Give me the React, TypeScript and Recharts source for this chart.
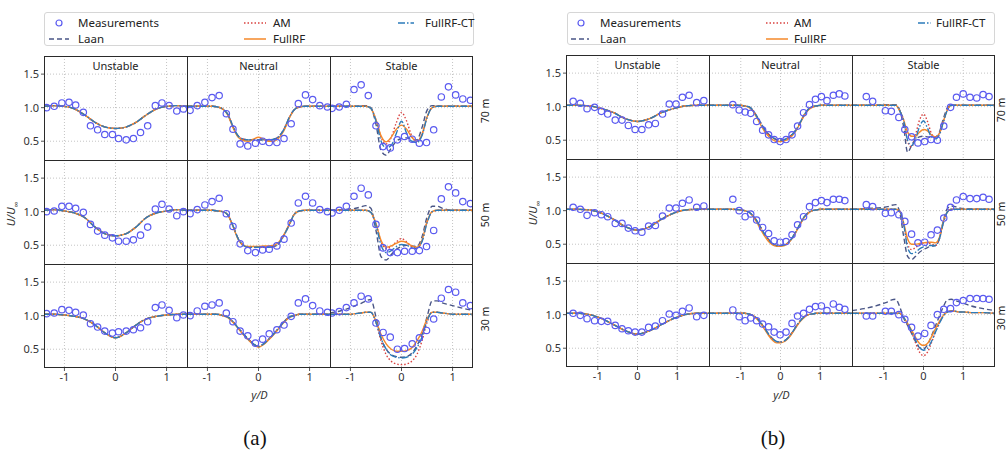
import React from 'react'
import { ComposedChart, Line, Scatter, XAxis, YAxis, CartesianGrid } from 'recharts'

const FONT = "'Noto Sans', 'Open Sans', sans-serif"
const C = { meas: '#5a5af0', laan: '#4a5686', am: '#d9413f', rf: '#f5892a', ct: '#2b7bba' }

const Y_DOMAIN = [0.22, 1.77]
const yTicks = [0.5, 1.0, 1.5]
const xTicks = [-1, 0, 1]
const regimes = ['Unstable', 'Neutral', 'Stable']
const heights = ['70 m', '50 m', '30 m']

// model x grids
const xA = [-1.4, -1.2, -1.0, -0.9, -0.8, -0.7, -0.6, -0.5, -0.4, -0.3, -0.2, -0.1, 0, 0.1, 0.2, 0.3, 0.4, 0.5, 0.6, 0.7, 0.8, 0.9, 1.0, 1.2, 1.4]
const xAc = [-1.4, -1.2, -1.0, -0.8, -0.6, -0.4, -0.2, 0, 0.2, 0.4, 0.6, 0.8, 1.0, 1.2, 1.4]
const xB = [-1.8, -1.5, -1.2, -1.0, -0.9, -0.8, -0.7, -0.6, -0.5, -0.4, -0.3, -0.2, -0.1, 0, 0.1, 0.2, 0.3, 0.4, 0.5, 0.6, 0.7, 0.8, 0.9, 1.0, 1.2, 1.5, 1.8]
const xBc = [-1.8, -1.5, -1.2, -0.9, -0.6, -0.3, 0, 0.3, 0.6, 0.9, 1.2, 1.5, 1.8]

// (a) measurements
const mxAUns = [-1.35, -1.2, -1.05, -0.91, -0.78, -0.63, -0.49, -0.35, -0.21, -0.06, 0.06, 0.21, 0.35, 0.49, 0.63, 0.78, 0.91, 1.05, 1.2, 1.33]
const myAUns70 = [1.0, 1.02, 1.07, 1.08, 1.04, 0.93, 0.73, 0.67, 0.6, 0.6, 0.54, 0.52, 0.54, 0.63, 0.73, 1.03, 1.07, 1.03, 0.95, 0.98]
const myAUns50 = [1.0, 1.01, 1.08, 1.08, 1.05, 0.99, 0.81, 0.71, 0.65, 0.61, 0.56, 0.56, 0.58, 0.65, 0.77, 1.04, 1.11, 1.04, 0.94, 1.0]
const myAUns30 = [1.03, 1.04, 1.09, 1.08, 1.05, 1.01, 0.88, 0.83, 0.77, 0.74, 0.76, 0.77, 0.79, 0.82, 0.91, 1.12, 1.16, 1.08, 0.97, 1.01]
const mxANeu = [-1.34, -1.2, -1.05, -0.91, -0.77, -0.63, -0.5, -0.36, -0.21, -0.06, 0.08, 0.21, 0.36, 0.5, 0.64, 0.78, 0.92, 1.06, 1.2, 1.35]
const myANeu70 = [0.96, 1.03, 1.08, 1.15, 1.18, 0.91, 0.68, 0.46, 0.43, 0.47, 0.5, 0.48, 0.48, 0.54, 0.76, 1.06, 1.19, 1.12, 1.03, 1.01]
const myANeu50 = [0.97, 1.03, 1.1, 1.15, 1.2, 0.97, 0.78, 0.52, 0.42, 0.39, 0.43, 0.44, 0.49, 0.59, 0.83, 1.13, 1.23, 1.13, 1.03, 1.0]
const myANeu30 = [1.0, 1.07, 1.14, 1.16, 1.19, 1.04, 0.91, 0.77, 0.7, 0.59, 0.65, 0.73, 0.79, 0.86, 0.99, 1.19, 1.25, 1.15, 1.07, 1.05]
const mxASta = [-1.36, -1.22, -1.08, -0.93, -0.79, -0.65, -0.5, -0.36, -0.22, -0.08, 0.06, 0.21, 0.35, 0.49, 0.63, 0.78, 0.92, 1.06, 1.2, 1.35]
const myASta70 = [0.99, 1.01, 1.05, 1.27, 1.34, 1.18, 0.73, 0.42, 0.4, 0.52, 0.57, 0.53, 0.47, 0.48, 0.67, 1.16, 1.31, 1.19, 1.13, 1.11]
const myASta50 = [0.98, 1.02, 1.08, 1.23, 1.35, 1.25, 0.81, 0.46, 0.39, 0.39, 0.41, 0.41, 0.42, 0.48, 0.72, 1.19, 1.37, 1.28, 1.15, 1.12]
const myASta30 = [1.04, 1.06, 1.12, 1.19, 1.29, 1.25, 0.89, 0.75, 0.68, 0.5, 0.51, 0.58, 0.67, 0.78, 0.95, 1.26, 1.39, 1.35, 1.19, 1.15]

// (a) models
const aUns70 = [1.02, 1.03, 1.02, 0.98, 0.89, 0.78, 0.71, 0.69, 0.71, 0.78, 0.89, 0.98, 1.02, 1.03, 1.02]
const aUns50 = [1.02, 1.03, 1.01, 0.98, 0.91, 0.77, 0.67, 0.64, 0.67, 0.77, 0.91, 0.98, 1.01, 1.03, 1.02]
const aUns30 = [1.02, 1.02, 1.01, 0.99, 0.95, 0.86, 0.74, 0.67, 0.74, 0.86, 0.95, 0.99, 1.01, 1.02, 1.02]
const aNeu70 = [1.02, 1.02, 1.02, 1.02, 1.01, 0.98, 0.9, 0.72, 0.58, 0.53, 0.52, 0.52, 0.52, 0.52, 0.52, 0.53, 0.57, 0.68, 0.85, 0.97, 1.01, 1.02, 1.02, 1.02, 1.02]
const aNeu70Rf = [1.02, 1.02, 1.02, 1.02, 1.01, 0.98, 0.89, 0.7, 0.56, 0.51, 0.5, 0.53, 0.56, 0.53, 0.5, 0.5, 0.55, 0.66, 0.84, 0.97, 1.01, 1.02, 1.02, 1.02, 1.02]
const aNeu50 = [1.02, 1.02, 1.02, 1.02, 1.01, 1.0, 0.95, 0.79, 0.6, 0.5, 0.47, 0.47, 0.47, 0.47, 0.47, 0.48, 0.53, 0.65, 0.8, 0.96, 1.01, 1.02, 1.02, 1.02, 1.02]
const aNeu50Rf = [1.02, 1.02, 1.02, 1.02, 1.01, 1.0, 0.95, 0.78, 0.59, 0.5, 0.48, 0.48, 0.48, 0.49, 0.49, 0.5, 0.55, 0.66, 0.81, 0.96, 1.01, 1.02, 1.02, 1.02, 1.02]
const aNeu30 = [1.02, 1.02, 1.02, 1.02, 1.02, 1.0, 0.98, 0.91, 0.82, 0.73, 0.65, 0.58, 0.54, 0.58, 0.65, 0.73, 0.82, 0.91, 0.98, 1.0, 1.02, 1.02, 1.02, 1.02, 1.02]
const aNeu30Rf = [1.02, 1.02, 1.02, 1.02, 1.02, 1.0, 0.97, 0.9, 0.81, 0.72, 0.64, 0.57, 0.53, 0.57, 0.64, 0.72, 0.81, 0.9, 0.97, 1.0, 1.02, 1.02, 1.02, 1.02, 1.02]
const aSta70Laan = [1.02, 1.02, 1.02, 1.02, 1.03, 1.03, 1.0, 0.75, 0.36, 0.29, 0.4, 0.5, 0.54, 0.55, 0.53, 0.52, 0.7, 0.96, 1.03, 1.03, 1.02, 1.02, 1.02, 1.02, 1.02]
const aSta70Am = [1.02, 1.02, 1.02, 1.02, 1.02, 1.02, 0.99, 0.82, 0.56, 0.46, 0.56, 0.78, 0.93, 0.8, 0.58, 0.5, 0.6, 0.86, 1.0, 1.02, 1.02, 1.02, 1.02, 1.02, 1.02]
const aSta70Rf = [1.02, 1.02, 1.02, 1.02, 1.02, 1.02, 0.99, 0.82, 0.58, 0.49, 0.56, 0.68, 0.74, 0.68, 0.56, 0.5, 0.6, 0.86, 1.0, 1.02, 1.02, 1.02, 1.02, 1.02, 1.02]
const aSta70Ct = [1.02, 1.02, 1.02, 1.02, 1.02, 1.02, 0.99, 0.8, 0.5, 0.4, 0.44, 0.62, 0.8, 0.62, 0.5, 0.48, 0.58, 0.85, 1.0, 1.02, 1.02, 1.02, 1.02, 1.02, 1.02]
const aSta50Laan = [1.02, 1.03, 1.04, 1.05, 1.07, 1.09, 1.05, 0.72, 0.33, 0.28, 0.36, 0.44, 0.48, 0.5, 0.49, 0.48, 0.62, 0.92, 1.08, 1.08, 1.05, 1.03, 1.02, 1.02, 1.02]
const aSta50Am = [1.02, 1.02, 1.02, 1.02, 1.02, 1.02, 0.99, 0.82, 0.55, 0.45, 0.48, 0.55, 0.6, 0.55, 0.48, 0.46, 0.56, 0.84, 1.0, 1.02, 1.02, 1.02, 1.02, 1.02, 1.02]
const aSta50Rf = [1.02, 1.02, 1.02, 1.02, 1.02, 1.02, 0.99, 0.82, 0.57, 0.47, 0.49, 0.53, 0.56, 0.54, 0.49, 0.47, 0.57, 0.85, 1.0, 1.02, 1.02, 1.02, 1.02, 1.02, 1.02]
const aSta50Ct = [1.02, 1.02, 1.02, 1.02, 1.02, 1.02, 0.99, 0.8, 0.5, 0.39, 0.42, 0.48, 0.51, 0.5, 0.46, 0.45, 0.55, 0.83, 1.0, 1.02, 1.02, 1.02, 1.02, 1.02, 1.02]
const aSta30Laan = [1.04, 1.07, 1.12, 1.15, 1.18, 1.22, 1.24, 0.98, 0.66, 0.5, 0.42, 0.39, 0.38, 0.39, 0.44, 0.55, 0.72, 0.98, 1.22, 1.22, 1.19, 1.17, 1.15, 1.11, 1.08]
const aSta30Am = [1.02, 1.02, 1.02, 1.03, 1.04, 1.05, 1.05, 0.9, 0.62, 0.42, 0.32, 0.28, 0.27, 0.28, 0.32, 0.42, 0.62, 0.9, 1.05, 1.05, 1.04, 1.03, 1.02, 1.02, 1.02]
const aSta30Rf = [1.02, 1.02, 1.02, 1.03, 1.04, 1.05, 1.05, 0.92, 0.72, 0.58, 0.5, 0.47, 0.47, 0.48, 0.52, 0.62, 0.76, 0.95, 1.05, 1.05, 1.04, 1.03, 1.02, 1.02, 1.02]
const aSta30Ct = [1.02, 1.02, 1.02, 1.03, 1.04, 1.05, 1.05, 0.9, 0.66, 0.5, 0.41, 0.38, 0.37, 0.38, 0.42, 0.52, 0.68, 0.92, 1.05, 1.05, 1.04, 1.03, 1.02, 1.02, 1.02]

// (b) measurements
const mxBUns = [-1.62, -1.44, -1.27, -1.08, -0.91, -0.75, -0.56, -0.39, -0.23, -0.06, 0.11, 0.28, 0.45, 0.63, 0.8, 0.97, 1.13, 1.3, 1.49, 1.67]
const myBUns70 = [1.08, 1.05, 0.97, 0.99, 0.93, 0.89, 0.8, 0.8, 0.72, 0.66, 0.66, 0.73, 0.75, 0.89, 1.04, 1.04, 1.14, 1.17, 1.06, 1.09]
const myBUns50 = [1.05, 1.02, 0.93, 0.97, 0.94, 0.91, 0.81, 0.81, 0.74, 0.7, 0.68, 0.77, 0.78, 0.92, 1.04, 1.04, 1.11, 1.16, 1.05, 1.07]
const myBUns30 = [1.02, 0.99, 0.94, 0.91, 0.9, 0.9, 0.84, 0.79, 0.76, 0.74, 0.74, 0.81, 0.83, 0.91, 1.01, 0.99, 1.05, 1.1, 0.97, 0.99]
const mxBNeu = [-1.2, -1.04, -0.89, -0.75, -0.6, -0.45, -0.3, -0.16, -0.01, 0.14, 0.29, 0.43, 0.58, 0.73, 0.88, 1.03, 1.17, 1.33, 1.48, 1.62]
const myBNeu70 = [1.03, 0.95, 0.92, 0.9, 0.78, 0.65, 0.58, 0.51, 0.48, 0.51, 0.58, 0.71, 0.91, 1.03, 1.11, 1.15, 1.09, 1.17, 1.19, 1.16]
const myBNeu50 = [1.17, 1.0, 0.91, 0.95, 0.86, 0.75, 0.66, 0.55, 0.53, 0.54, 0.64, 0.79, 0.91, 1.06, 1.12, 1.15, 1.12, 1.17, 1.17, 1.15]
const myBNeu30 = [1.07, 0.97, 0.91, 0.95, 0.91, 0.86, 0.82, 0.74, 0.7, 0.74, 0.87, 0.98, 1.02, 1.08, 1.12, 1.13, 1.06, 1.16, 1.11, 1.08]
const mxBSta = [-1.44, -1.28, -0.96, -0.81, -0.62, -0.47, -0.3, -0.14, 0.03, 0.19, 0.35, 0.51, 0.68, 0.83, 1.0, 1.17, 1.34, 1.5, 1.65]
const myBSta70 = [1.15, 1.08, 0.94, 0.93, 0.84, 0.66, 0.55, 0.46, 0.48, 0.51, 0.5, 0.71, 0.99, 1.14, 1.19, 1.14, 1.13, 1.18, 1.15]
const myBSta50 = [1.09, 1.06, 0.96, 0.97, 0.94, 0.84, 0.65, 0.52, 0.53, 0.64, 0.71, 0.89, 1.05, 1.16, 1.21, 1.18, 1.18, 1.2, 1.17]
const myBSta30 = [0.98, 0.98, 1.05, 1.05, 1.0, 0.93, 0.81, 0.68, 0.72, 0.84, 1.0, 1.08, 1.09, 1.18, 1.21, 1.24, 1.24, 1.24, 1.23]

// (b) models
const bUns70 = [1.02, 1.02, 1.01, 0.97, 0.91, 0.82, 0.78, 0.82, 0.91, 0.97, 1.01, 1.02, 1.02]
const bUns50 = [1.02, 1.02, 1.01, 0.96, 0.87, 0.76, 0.71, 0.76, 0.87, 0.96, 1.01, 1.02, 1.02]
const bUns30 = [1.02, 1.02, 1.0, 0.94, 0.85, 0.76, 0.71, 0.76, 0.85, 0.94, 1.0, 1.02, 1.02]
const bNeu70 = [1.02, 1.02, 1.02, 1.02, 1.01, 1.0, 0.95, 0.86, 0.76, 0.66, 0.59, 0.54, 0.51, 0.5, 0.51, 0.54, 0.59, 0.66, 0.77, 0.88, 0.96, 1.0, 1.01, 1.02, 1.02, 1.02, 1.02]
const bNeu70Rf = [1.02, 1.02, 1.02, 1.02, 1.01, 0.99, 0.94, 0.84, 0.73, 0.63, 0.56, 0.51, 0.48, 0.48, 0.49, 0.52, 0.57, 0.65, 0.76, 0.87, 0.95, 0.99, 1.01, 1.02, 1.02, 1.02, 1.02]
const bNeu50 = [1.02, 1.02, 1.02, 1.01, 1.0, 0.98, 0.93, 0.85, 0.75, 0.65, 0.57, 0.51, 0.48, 0.48, 0.49, 0.53, 0.6, 0.7, 0.81, 0.91, 0.97, 1.0, 1.01, 1.02, 1.02, 1.02, 1.02]
const bNeu50Rf = [1.02, 1.02, 1.02, 1.01, 1.0, 0.98, 0.92, 0.83, 0.72, 0.62, 0.54, 0.49, 0.47, 0.47, 0.48, 0.52, 0.59, 0.69, 0.8, 0.9, 0.96, 1.0, 1.01, 1.02, 1.02, 1.02, 1.02]
const bNeu30 = [1.02, 1.02, 1.02, 1.02, 1.02, 1.01, 0.99, 0.95, 0.88, 0.8, 0.71, 0.64, 0.6, 0.59, 0.61, 0.66, 0.74, 0.83, 0.91, 0.97, 1.0, 1.01, 1.02, 1.02, 1.02, 1.02, 1.02]
const bNeu30Rf = [1.02, 1.02, 1.02, 1.02, 1.02, 1.01, 0.99, 0.94, 0.87, 0.78, 0.69, 0.62, 0.58, 0.58, 0.6, 0.65, 0.73, 0.82, 0.9, 0.96, 1.0, 1.01, 1.02, 1.02, 1.02, 1.02, 1.02]
const bSta70Laan = [1.02, 1.02, 1.02, 1.03, 1.03, 1.03, 1.03, 0.95, 0.7, 0.32, 0.42, 0.52, 0.55, 0.56, 0.55, 0.54, 0.55, 0.62, 0.82, 0.98, 1.02, 1.02, 1.02, 1.02, 1.02, 1.02, 1.02]
const bSta70Am = [1.02, 1.02, 1.02, 1.02, 1.02, 1.02, 1.02, 0.94, 0.8, 0.48, 0.4, 0.58, 0.8, 0.89, 0.78, 0.6, 0.54, 0.6, 0.78, 0.95, 1.02, 1.02, 1.02, 1.02, 1.02, 1.02, 1.02]
const bSta70Rf = [1.02, 1.02, 1.02, 1.02, 1.02, 1.02, 1.02, 0.94, 0.8, 0.62, 0.56, 0.56, 0.62, 0.66, 0.64, 0.58, 0.55, 0.6, 0.78, 0.95, 1.02, 1.02, 1.02, 1.02, 1.02, 1.02, 1.02]
const bSta70Ct = [1.02, 1.02, 1.02, 1.02, 1.02, 1.02, 1.02, 0.94, 0.79, 0.5, 0.42, 0.52, 0.7, 0.79, 0.68, 0.55, 0.52, 0.58, 0.77, 0.95, 1.02, 1.02, 1.02, 1.02, 1.02, 1.02, 1.02]
const bSta50Laan = [1.02, 1.03, 1.04, 1.05, 1.06, 1.08, 1.09, 0.98, 0.62, 0.32, 0.27, 0.32, 0.38, 0.42, 0.45, 0.47, 0.48, 0.58, 0.85, 1.03, 1.07, 1.06, 1.04, 1.03, 1.03, 1.02, 1.02]
const bSta50Am = [1.02, 1.02, 1.02, 1.02, 1.02, 1.02, 1.02, 0.99, 0.8, 0.5, 0.42, 0.45, 0.5, 0.52, 0.52, 0.5, 0.48, 0.58, 0.82, 0.98, 1.02, 1.02, 1.02, 1.02, 1.02, 1.02, 1.02]
const bSta50Rf = [1.02, 1.02, 1.02, 1.02, 1.02, 1.02, 1.02, 0.99, 0.82, 0.58, 0.5, 0.5, 0.51, 0.52, 0.53, 0.53, 0.52, 0.6, 0.84, 0.98, 1.02, 1.02, 1.02, 1.02, 1.02, 1.02, 1.02]
const bSta50Ct = [1.02, 1.02, 1.02, 1.02, 1.02, 1.02, 1.02, 0.99, 0.8, 0.45, 0.36, 0.38, 0.43, 0.46, 0.48, 0.48, 0.48, 0.58, 0.82, 0.98, 1.02, 1.02, 1.02, 1.02, 1.02, 1.02, 1.02]
const bSta30Laan = [1.06, 1.09, 1.13, 1.17, 1.19, 1.22, 1.23, 1.12, 0.95, 0.84, 0.72, 0.6, 0.51, 0.49, 0.55, 0.68, 0.83, 0.98, 1.12, 1.22, 1.23, 1.21, 1.19, 1.17, 1.13, 1.09, 1.06]
const bSta30Am = [1.02, 1.02, 1.02, 1.02, 1.02, 1.02, 1.02, 1.02, 0.96, 0.86, 0.74, 0.58, 0.44, 0.39, 0.44, 0.58, 0.74, 0.88, 0.99, 1.04, 1.05, 1.05, 1.04, 1.04, 1.03, 1.03, 1.02]
const bSta30Rf = [1.02, 1.02, 1.02, 1.02, 1.02, 1.02, 1.02, 1.02, 0.96, 0.87, 0.77, 0.66, 0.57, 0.54, 0.57, 0.67, 0.79, 0.9, 0.99, 1.04, 1.06, 1.05, 1.04, 1.04, 1.03, 1.03, 1.02]
const bSta30Ct = [1.02, 1.02, 1.02, 1.02, 1.02, 1.02, 1.02, 1.02, 0.96, 0.86, 0.75, 0.62, 0.51, 0.47, 0.5, 0.6, 0.74, 0.87, 0.98, 1.04, 1.05, 1.05, 1.04, 1.04, 1.03, 1.03, 1.02]

interface Cell {
  mx: number[]
  my: number[]
  cx: number[]
  laan: number[]
  am: number[]
  rf: number[]
  ct: number[]
}

const same = (mx: number[], my: number[], cx: number[], m: number[], rf = m): Cell =>
  ({ mx, my, cx, laan: m, am: m, rf, ct: m })

const cellsA: Cell[][] = [
  [same(mxAUns, myAUns70, xAc, aUns70), same(mxANeu, myANeu70, xA, aNeu70, aNeu70Rf),
    { mx: mxASta, my: myASta70, cx: xA, laan: aSta70Laan, am: aSta70Am, rf: aSta70Rf, ct: aSta70Ct }],
  [same(mxAUns, myAUns50, xAc, aUns50), same(mxANeu, myANeu50, xA, aNeu50, aNeu50Rf),
    { mx: mxASta, my: myASta50, cx: xA, laan: aSta50Laan, am: aSta50Am, rf: aSta50Rf, ct: aSta50Ct }],
  [same(mxAUns, myAUns30, xAc, aUns30), same(mxANeu, myANeu30, xA, aNeu30, aNeu30Rf),
    { mx: mxASta, my: myASta30, cx: xA, laan: aSta30Laan, am: aSta30Am, rf: aSta30Rf, ct: aSta30Ct }],
]

const cellsB: Cell[][] = [
  [same(mxBUns, myBUns70, xBc, bUns70), same(mxBNeu, myBNeu70, xB, bNeu70, bNeu70Rf),
    { mx: mxBSta, my: myBSta70, cx: xB, laan: bSta70Laan, am: bSta70Am, rf: bSta70Rf, ct: bSta70Ct }],
  [same(mxBUns, myBUns50, xBc, bUns50), same(mxBNeu, myBNeu50, xB, bNeu50, bNeu50Rf),
    { mx: mxBSta, my: myBSta50, cx: xB, laan: bSta50Laan, am: bSta50Am, rf: bSta50Rf, ct: bSta50Ct }],
  [same(mxBUns, myBUns30, xBc, bUns30), same(mxBNeu, myBNeu30, xB, bNeu30, bNeu30Rf),
    { mx: mxBSta, my: myBSta30, cx: xB, laan: bSta30Laan, am: bSta30Am, rf: bSta30Rf, ct: bSta30Ct }],
]

const SERIES = [
  { key: 'laan', name: 'Laan', color: C.laan, dash: '5 3' },
  { key: 'am', name: 'AM', color: C.am, dash: '1.5 2' },
  { key: 'rf', name: 'FullRF', color: C.rf, dash: undefined },
  { key: 'ct', name: 'FullRF-CT', color: C.ct, dash: '7 2 1.5 2' },
] as const

const pts = (xs: number[], ys: number[]) => ys.map((y, i) => ({ x: xs[i], y }))

interface Geo {
  left: number
  top: number
  w: number
  h: number
  xDomain: number[]
  tag: string
  tagX: number
  sideX: number
  legend: { x: number; w: number; h: number; circ: number; l1: number[]; l2: number[]; l3: number[]; t1: number; t2: number; t3: number }
}

const GEO_A: Geo = {
  left: 44, top: 56, w: 143, h: 104, xDomain: [-1.4, 1.4], tag: '(a)', tagX: 255, sideX: 485,
  legend: { x: 44, w: 430, h: 34, circ: 14, l1: [4, 24], l2: [199, 221], l3: [353, 369], t1: 33, t2: 228, t3: 380 },
}
const GEO_B: Geo = {
  left: 566, top: 55, w: 143, h: 104, xDomain: [-1.8, 1.8], tag: '(b)', tagX: 773, sideX: 1001,
  legend: { x: 567, w: 428, h: 33, circ: 13, l1: [3, 21], l2: [198, 220], l3: [350, 363], t1: 32, t2: 226, t3: 368 },
}

const tickStyle = { fontSize: 11, fill: '#333', fontFamily: FONT }

const Ring = (p: any) =>
  p.cx == null ? null : <circle cx={p.cx} cy={p.cy} r={3.2} fill="none" stroke={C.meas} strokeWidth={1.2} />

function PlotCell({ cell, row, col, geo }: { cell: Cell; row: number; col: number; geo: Geo }) {
  const yw = col === 0 ? 36 : 0
  const xh = row === 2 ? 24 : 0
  return (
    <div style={{ position: 'absolute', left: geo.left + col * geo.w - yw, top: geo.top + row * geo.h }}>
      <ComposedChart width={geo.w + yw} height={geo.h + xh} margin={{ top: 0, right: 0, bottom: 0, left: 0 }}>
        <CartesianGrid stroke="#c4c4c4" strokeDasharray="1 2" horizontalValues={yTicks} verticalValues={xTicks} />
        <XAxis
          type="number"
          dataKey="x"
          domain={geo.xDomain}
          ticks={xTicks}
          allowDataOverflow
          hide={row !== 2}
          height={24}
          axisLine={false}
          tickSize={3}
          tickMargin={2}
          tickLine={{ stroke: '#555' }}
          tick={tickStyle}
        />
        <YAxis
          type="number"
          dataKey="y"
          domain={Y_DOMAIN}
          ticks={yTicks}
          allowDataOverflow
          hide={col !== 0}
          width={36}
          axisLine={false}
          tickSize={3}
          tickMargin={2}
          tickLine={{ stroke: '#555' }}
          tick={tickStyle}
          tickFormatter={(v: number) => v.toFixed(1)}
        />
        {SERIES.map((s) => (
          <Line
            key={s.key}
            data={pts(cell.cx, cell[s.key])}
            dataKey="y"
            type="monotone"
            stroke={s.color}
            strokeWidth={1.4}
            strokeDasharray={s.dash}
            dot={false}
            activeDot={false}
            isAnimationActive={false}
          />
        ))}
        <Scatter data={pts(cell.mx, cell.my)} dataKey="y" shape={Ring} isAnimationActive={false} />
      </ComposedChart>
    </div>
  )
}

function LegendBox({ geo }: { geo: Geo }) {
  const L = geo.legend
  const r1 = 9.5
  const r2 = 25.5
  const seg = (x: number[], y: number, s: (typeof SERIES)[number]) => (
    <svg style={{ position: 'absolute', left: x[0], top: y - 5 }} width={x[1] - x[0]} height={10}>
      <line x1={0} x2={x[1] - x[0]} y1={5} y2={5} stroke={s.color} strokeWidth={1.5} strokeDasharray={s.dash} />
    </svg>
  )
  const txt = (x: number, y: number, t: string) => (
    <div style={{ position: 'absolute', left: x, top: y - 8, lineHeight: '16px', fontSize: 11.5, color: '#222', whiteSpace: 'nowrap' }}>{t}</div>
  )
  return (
    <div
      style={{
        position: 'absolute', left: L.x, top: 12, width: L.w, height: L.h, boxSizing: 'border-box',
        border: '1px solid #d6d6d6', borderRadius: 3, fontFamily: FONT,
      }}
    >
      <svg style={{ position: 'absolute', left: L.circ - 5, top: r1 - 5 }} width={10} height={10}>
        <circle cx={5} cy={5} r={3} fill="none" stroke={C.meas} strokeWidth={1.2} />
      </svg>
      {txt(L.t1, r1, 'Measurements')}
      {seg(L.l1, r2, SERIES[0])}
      {txt(L.t1, r2, SERIES[0].name)}
      {seg(L.l2, r1, SERIES[1])}
      {txt(L.t2, r1, SERIES[1].name)}
      {seg(L.l2, r2, SERIES[2])}
      {txt(L.t2, r2, SERIES[2].name)}
      {seg(L.l3, r1, SERIES[3])}
      {txt(L.t3, r1, SERIES[3].name)}
    </div>
  )
}

const centered = (x: number, y: number, rot = false): React.CSSProperties => ({
  position: 'absolute', left: x, top: y, whiteSpace: 'nowrap',
  transform: `translate(-50%, -50%)${rot ? ' rotate(-90deg)' : ''}`,
})

function Panel({ geo, cells }: { geo: Geo; cells: Cell[][] }) {
  const W = geo.w * 3
  const H = geo.h * 3
  const line = '#2a2a2a'
  return (
    <>
      <LegendBox geo={geo} />
      {cells.map((rowCells, r) => rowCells.map((cell, c) => (
        <PlotCell key={`${r}-${c}`} cell={cell} row={r} col={c} geo={geo} />
      )))}
      <div style={{ position: 'absolute', left: geo.left, top: geo.top, width: W, height: H, boxSizing: 'border-box', border: `1px solid ${line}`, pointerEvents: 'none' }} />
      {[1, 2].map((i) => (
        <div key={`v${i}`} style={{ position: 'absolute', left: geo.left + i * geo.w, top: geo.top, width: 1, height: H, background: line }} />
      ))}
      {[1, 2].map((i) => (
        <div key={`h${i}`} style={{ position: 'absolute', left: geo.left, top: geo.top + i * geo.h, width: W, height: 1, background: line }} />
      ))}
      {regimes.map((t, c) => (
        <div key={t} style={{ ...centered(geo.left + c * geo.w + geo.w / 2, geo.top + 9), fontSize: 11, color: '#222' }}>{t}</div>
      ))}
      {heights.map((t, r) => (
        <div key={t} style={{ ...centered(geo.sideX, geo.top + r * geo.h + geo.h / 2 + 3, true), fontSize: 10.5, lineHeight: '12px', color: '#222' }}>{t}</div>
      ))}
      <div style={{ ...centered(geo.left + W / 2 + 1, 394), fontSize: 11, fontStyle: 'italic', color: '#333' }}>y/D</div>
      <div style={{ ...centered(geo.left - 32, geo.top + H / 2 + 2, true), fontSize: 11, fontStyle: 'italic', color: '#333' }}>
        U/U<sub style={{ fontSize: 8 }}>∞</sub>
      </div>
      <div style={{ ...centered(geo.tagX, 438), fontSize: 21, fontFamily: "'Liberation Serif', serif", color: '#111' }}>{geo.tag}</div>
    </>
  )
}

export default function App() {
  return (
    <div style={{ position: 'absolute', left: 0, top: 0, width: 1008, height: 454, background: '#fff', fontFamily: FONT, overflow: 'hidden' }}>
      <Panel geo={GEO_A} cells={cellsA} />
      <Panel geo={GEO_B} cells={cellsB} />
    </div>
  )
}
